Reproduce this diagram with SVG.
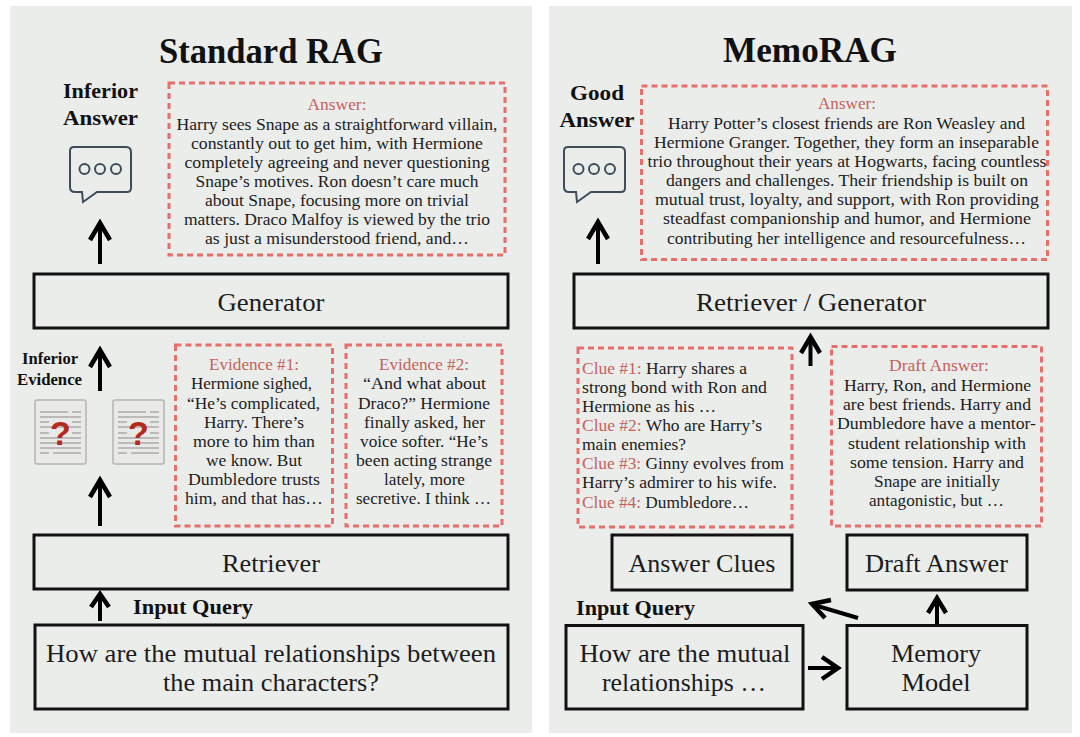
<svg xmlns="http://www.w3.org/2000/svg" width="1080" height="737" viewBox="0 0 1080 737">
<style>
text{font-family:"Liberation Serif","DejaVu Serif",serif;fill:#1c1c1c;text-anchor:middle}
.title{font-size:35px;font-weight:bold;fill:#111}
.lab{font-size:21px;font-weight:bold;fill:#111}
.labs{font-size:16px;font-weight:bold;fill:#111}
.box{font-size:25px}
.t{font-size:16.5px}
.r{font-size:16.5px;fill:#c4625c}
.l{text-anchor:start}
.panel{fill:#ebedeb}
.rect{fill:none;stroke:#111;stroke-width:3}
.dash{fill:none;stroke:#e8706c;stroke-width:3;stroke-dasharray:6 4}
.arr{fill:none;stroke:#000;stroke-width:4}
.head{fill:none;stroke:#000;stroke-width:4.500}
.doc{fill:#e9e9e7;stroke:#b4b4b2;stroke-width:1.500}
.dl{stroke:#aaa;stroke-width:1.500}
.q{font-family:"Liberation Sans",sans-serif;font-weight:bold;font-size:34px;fill:#b5291c}
.bub{fill:none;stroke:#3f4c5c;stroke-width:2}
</style>
<defs>
<g id="doc">
<rect class="doc" x="0" y="0" width="51" height="64" rx="2"/>
<path class="dl" d="M5 12H33M37 12H46M5 17H46M5 22H14M37 22H46M5 27H46M5 33H14M37 33H46M5 38H46M5 43H46M5 48H46M5 53H14M18 53H46"/>
<text class="q" x="25.500" y="45">?</text>
</g>
<g id="bubble">
<path class="bub" d="M4 0H56Q61 0 61 5V41Q61 45 57 45H27L13 55L12 45H5Q0 45 0 40V4Q0 0 4 0Z"/>
<circle class="bub" cx="14.500" cy="22" r="5"/>
<circle class="bub" cx="30" cy="22" r="5"/>
<circle class="bub" cx="46" cy="22" r="5"/>
</g>
</defs>
<rect width="1080" height="737" fill="#fff"/>
<rect class="panel" x="10" y="6" width="522" height="727"/>
<rect class="panel" x="549" y="6" width="523" height="727"/>

<g id="connectors">
<path class="arr" d="M100 264V226"/><path class="head" d="M90 240L100 223L110 240"/>
<path class="arr" d="M100 391V352"/><path class="head" d="M90 367L100 350L110 367"/>
<path class="arr" d="M100 526V481"/><path class="head" d="M90 497L100 480L110 497"/>
<path class="arr" d="M100 621V596"/><path class="head" d="M91 607L100 594L109 607"/>
<path class="arr" d="M598 264V224"/><path class="head" d="M588 239L598 222L608 239"/>
<path class="arr" d="M810.500 366V340"/><path class="head" d="M801 353L810.500 337L820 353"/>
<path class="arr" d="M937 624V600"/><path class="head" d="M928 613L937 598L946 613"/>
<path class="arr" d="M858 618L814 605"/><path class="head" d="M831 600L812 604L825 618"/>
<path class="arr" d="M808 668H836"/><path class="head" d="M822 657L838 668L822 679"/>
</g>

<g id="std-title"><text class="title" x="271" y="63" textLength="224" lengthAdjust="spacingAndGlyphs">Standard RAG</text></g>
<g id="std-inferior-answer">
<text class="lab" x="100.500" y="98" textLength="75" lengthAdjust="spacingAndGlyphs">Inferior</text>
<text class="lab" x="100.500" y="125" textLength="75" lengthAdjust="spacingAndGlyphs">Answer</text>
<use href="#bubble" x="70" y="147"/>
</g>
<g id="std-answer">
<rect class="dash" x="169" y="83" width="336" height="172"/>
<text class="r" x="337" y="110" textLength="59" lengthAdjust="spacingAndGlyphs">Answer:</text>
<text class="t" x="337" y="130" textLength="321" lengthAdjust="spacingAndGlyphs">Harry sees Snape as a straightforward villain,</text>
<text class="t" x="337" y="149" textLength="292" lengthAdjust="spacingAndGlyphs">constantly out to get him, with Hermione</text>
<text class="t" x="337" y="168" textLength="305" lengthAdjust="spacingAndGlyphs">completely agreeing and never questioning</text>
<text class="t" x="337" y="187" textLength="283" lengthAdjust="spacingAndGlyphs">Snape’s motives. Ron doesn’t care much</text>
<text class="t" x="337" y="206" textLength="264" lengthAdjust="spacingAndGlyphs">about Snape, focusing more on trivial</text>
<text class="t" x="337" y="225" textLength="306" lengthAdjust="spacingAndGlyphs">matters. Draco Malfoy is viewed by the trio</text>
<text class="t" x="337" y="244" textLength="264" lengthAdjust="spacingAndGlyphs">as just a misunderstood friend, and…</text>
</g>
<g id="std-generator"><rect class="rect" x="34" y="274" width="474" height="54"/><text class="box" x="271" y="311" textLength="107" lengthAdjust="spacingAndGlyphs">Generator</text></g>
<g id="std-inferior-evidence">
<text class="labs" x="50" y="364" textLength="56" lengthAdjust="spacingAndGlyphs">Inferior</text>
<text class="labs" x="49.500" y="385" textLength="65" lengthAdjust="spacingAndGlyphs">Evidence</text>
<use href="#doc" x="35" y="400"/><use href="#doc" x="113" y="400"/>
</g>
<g id="std-ev1">
<rect class="dash" x="175.500" y="345" width="157" height="181"/>
<text class="r" x="254" y="369.500" textLength="90" lengthAdjust="spacingAndGlyphs">Evidence #1:</text>
<text class="t" x="251.500" y="389" textLength="121" lengthAdjust="spacingAndGlyphs">Hermione sighed,</text>
<text class="t" x="253.500" y="408.500" textLength="133" lengthAdjust="spacingAndGlyphs">“He’s complicated,</text>
<text class="t" x="254" y="427.500" textLength="100" lengthAdjust="spacingAndGlyphs">Harry. There’s</text>
<text class="t" x="254" y="446.500" textLength="122" lengthAdjust="spacingAndGlyphs">more to him than</text>
<text class="t" x="254" y="465.500" textLength="96" lengthAdjust="spacingAndGlyphs">we know. But</text>
<text class="t" x="254" y="484.500" textLength="132" lengthAdjust="spacingAndGlyphs">Dumbledore trusts</text>
<text class="t" x="254" y="503.500" textLength="138" lengthAdjust="spacingAndGlyphs">him, and that has…</text>
</g>
<g id="std-ev2">
<rect class="dash" x="346" y="345" width="156" height="181"/>
<text class="r" x="424" y="369.500" textLength="90" lengthAdjust="spacingAndGlyphs">Evidence #2:</text>
<text class="t" x="424.500" y="389" textLength="123" lengthAdjust="spacingAndGlyphs">“And what about</text>
<text class="t" x="424" y="408.500" textLength="132" lengthAdjust="spacingAndGlyphs">Draco?” Hermione</text>
<text class="t" x="424.500" y="427.500" textLength="121" lengthAdjust="spacingAndGlyphs">finally asked, her</text>
<text class="t" x="424" y="446.500" textLength="128" lengthAdjust="spacingAndGlyphs">voice softer. “He’s</text>
<text class="t" x="424" y="465.500" textLength="136" lengthAdjust="spacingAndGlyphs">been acting strange</text>
<text class="t" x="424.500" y="484.500" textLength="81" lengthAdjust="spacingAndGlyphs">lately, more</text>
<text class="t" x="423.500" y="503.500" textLength="135" lengthAdjust="spacingAndGlyphs">secretive. I think …</text>
</g>
<g id="std-retriever"><rect class="rect" x="34" y="535" width="474" height="54"/><text class="box" x="271" y="572" textLength="98" lengthAdjust="spacingAndGlyphs">Retriever</text></g>
<g id="std-input-label"><text class="lab l" x="133" y="614" textLength="120" lengthAdjust="spacingAndGlyphs">Input Query</text></g>
<g id="std-query">
<rect class="rect" x="35" y="625" width="473" height="84"/>
<text class="box" x="271" y="662" textLength="450" lengthAdjust="spacingAndGlyphs">How are the mutual relationships between</text>
<text class="box" x="271" y="691" textLength="216" lengthAdjust="spacingAndGlyphs">the main characters?</text>
</g>

<g id="mem-title"><text class="title" x="810" y="62" textLength="174" lengthAdjust="spacingAndGlyphs">MemoRAG</text></g>
<g id="mem-good-answer">
<text class="lab" x="597" y="100" textLength="54" lengthAdjust="spacingAndGlyphs">Good</text>
<text class="lab" x="597" y="127" textLength="75" lengthAdjust="spacingAndGlyphs">Answer</text>
<use href="#bubble" x="564" y="147"/>
</g>
<g id="mem-answer">
<rect class="dash" x="641.500" y="86" width="406" height="173.500"/>
<text class="r" x="847" y="109" textLength="58" lengthAdjust="spacingAndGlyphs">Answer:</text>
<text class="t" x="846.500" y="129" textLength="357" lengthAdjust="spacingAndGlyphs">Harry Potter’s closest friends are Ron Weasley and</text>
<text class="t" x="846.500" y="148" textLength="385" lengthAdjust="spacingAndGlyphs">Hermione Granger. Together, they form an inseparable</text>
<text class="t" x="847" y="167" textLength="399" lengthAdjust="spacingAndGlyphs">trio throughout their years at Hogwarts, facing countless</text>
<text class="t" x="847" y="186" textLength="362" lengthAdjust="spacingAndGlyphs">dangers and challenges. Their friendship is built on</text>
<text class="t" x="847" y="205" textLength="384" lengthAdjust="spacingAndGlyphs">mutual trust, loyalty, and support, with Ron providing</text>
<text class="t" x="847" y="224" textLength="368" lengthAdjust="spacingAndGlyphs">steadfast companionship and humor, and Hermione</text>
<text class="t" x="846.500" y="244" textLength="359" lengthAdjust="spacingAndGlyphs">contributing her intelligence and resourcefulness…</text>
</g>
<g id="mem-retriever-generator"><rect class="rect" x="574" y="274" width="474" height="54"/><text class="box" x="811" y="311" textLength="230" lengthAdjust="spacingAndGlyphs">Retriever / Generator</text></g>
<g id="mem-clues">
<rect class="dash" x="578" y="348" width="214" height="179"/>
<text class="t l" x="582" y="373.500" textLength="165" lengthAdjust="spacingAndGlyphs"><tspan class="r">Clue #1:</tspan> Harry shares a</text>
<text class="t l" x="582" y="393" textLength="185" lengthAdjust="spacingAndGlyphs">strong bond with Ron and</text>
<text class="t l" x="582" y="412" textLength="134" lengthAdjust="spacingAndGlyphs">Hermione as his …</text>
<text class="t l" x="582" y="431" textLength="180" lengthAdjust="spacingAndGlyphs"><tspan class="r">Clue #2:</tspan> Who are Harry’s</text>
<text class="t l" x="582" y="450" textLength="104" lengthAdjust="spacingAndGlyphs">main enemies?</text>
<text class="t l" x="582" y="469" textLength="202" lengthAdjust="spacingAndGlyphs"><tspan class="r">Clue #3:</tspan> Ginny evolves from</text>
<text class="t l" x="582" y="488" textLength="195" lengthAdjust="spacingAndGlyphs">Harry’s admirer to his wife.</text>
<text class="t l" x="582" y="507.500" textLength="167" lengthAdjust="spacingAndGlyphs"><tspan class="r">Clue #4:</tspan> Dumbledore…</text>
</g>
<g id="mem-draft">
<rect class="dash" x="831.500" y="346.500" width="210" height="179.500"/>
<text class="r" x="939" y="371" textLength="100" lengthAdjust="spacingAndGlyphs">Draft Answer:</text>
<text class="t" x="937.500" y="390.500" textLength="187" lengthAdjust="spacingAndGlyphs">Harry, Ron, and Hermione</text>
<text class="t" x="937" y="410" textLength="188" lengthAdjust="spacingAndGlyphs">are best friends. Harry and</text>
<text class="t" x="936.500" y="429" textLength="199" lengthAdjust="spacingAndGlyphs">Dumbledore have a mentor-</text>
<text class="t" x="937" y="448.500" textLength="178" lengthAdjust="spacingAndGlyphs">student relationship with</text>
<text class="t" x="937" y="467.500" textLength="174" lengthAdjust="spacingAndGlyphs">some tension. Harry and</text>
<text class="t" x="937" y="486.500" textLength="126" lengthAdjust="spacingAndGlyphs">Snape are initially</text>
<text class="t" x="936.500" y="506" textLength="135" lengthAdjust="spacingAndGlyphs">antagonistic, but …</text>
</g>
<g id="mem-answer-clues"><rect class="rect" x="612" y="535" width="180" height="55"/><text class="box" x="702" y="572" textLength="147" lengthAdjust="spacingAndGlyphs">Answer Clues</text></g>
<g id="mem-draft-answer"><rect class="rect" x="847" y="535" width="180" height="55"/><text class="box" x="936.500" y="572" textLength="143" lengthAdjust="spacingAndGlyphs">Draft Answer</text></g>
<g id="mem-input-label"><text class="lab l" x="576" y="614.500" textLength="119" lengthAdjust="spacingAndGlyphs">Input Query</text></g>
<g id="mem-query">
<rect class="rect" x="566" y="625.500" width="237" height="83.500"/>
<text class="box" x="685" y="662" textLength="211" lengthAdjust="spacingAndGlyphs">How are the mutual</text>
<text class="box" x="684" y="691" textLength="164" lengthAdjust="spacingAndGlyphs">relationships …</text>
</g>
<g id="mem-model">
<rect class="rect" x="847" y="625.500" width="180" height="83.500"/>
<text class="box" x="936" y="662" textLength="90" lengthAdjust="spacingAndGlyphs">Memory</text>
<text class="box" x="936" y="691" textLength="69" lengthAdjust="spacingAndGlyphs">Model</text>
</g>
</svg>
